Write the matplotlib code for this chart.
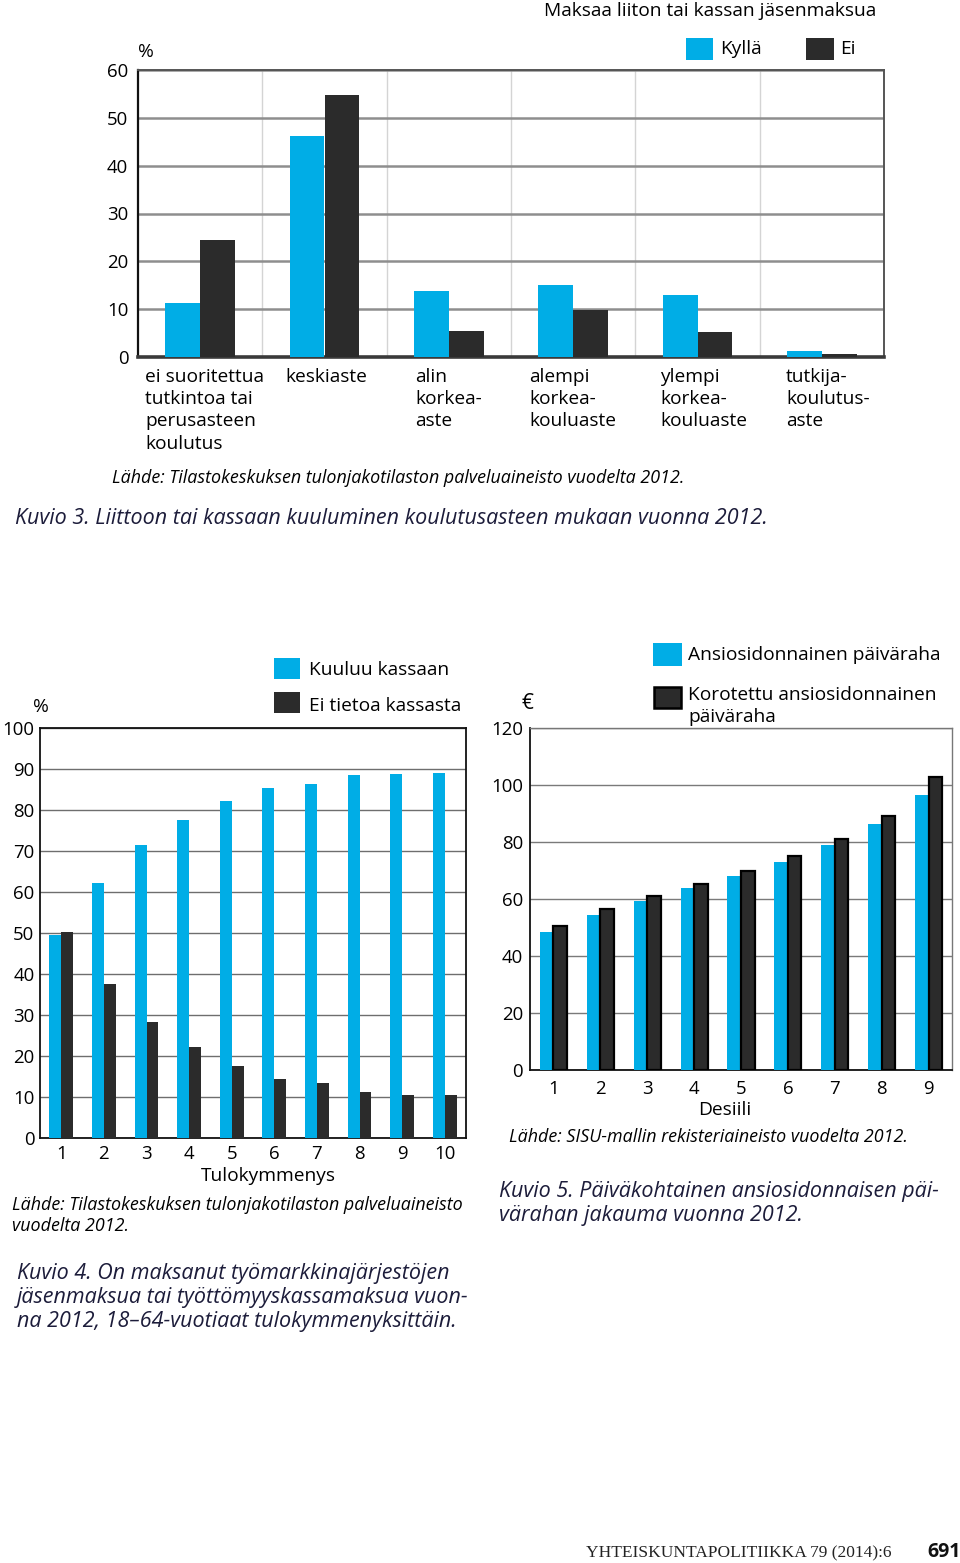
import matplotlib
matplotlib.use("Agg")
import matplotlib.pyplot as plt
from matplotlib.patches import Rectangle
import numpy as np

# ---------------- data ----------------
edu_labels = ["ei suoritettua\ntutkintoa tai\nperusasteen\nkoulutus", "keskiaste",
              "alin\nkorkea-\naste", "alempi\nkorkea-\nkouluaste",
              "ylempi\nkorkea-\nkouluaste", "tutkija-\nkoulutus-\naste"]
edu_kylla = [11.2, 46.2, 13.9, 15.0, 12.9, 1.2]
edu_ei = [24.5, 54.8, 5.5, 9.8, 5.2, 0.6]
top_yticks = [0, 10, 20, 30, 40, 50, 60]

tulo_labels = ["1", "2", "3", "4", "5", "6", "7", "8", "9", "10"]
kuuluu = [49.4, 62.2, 71.5, 77.5, 82.1, 85.3, 86.4, 88.6, 88.9, 89.0]
ei_tietoa = [50.3, 37.5, 28.4, 22.3, 17.6, 14.4, 13.3, 11.2, 10.6, 10.6]
tulo_yticks = [0, 10, 20, 30, 40, 50, 60, 70, 80, 90, 100]

desiili_labels = ["1", "2", "3", "4", "5", "6", "7", "8", "9"]
ansio = [48.4, 54.4, 59.4, 63.7, 68.0, 72.9, 78.8, 86.3, 96.4]
korotettu = [50.7, 56.4, 61.1, 65.2, 70.0, 75.0, 81.1, 89.1, 102.8]
des_yticks = [0, 20, 40, 60, 80, 100, 120]

# ---------------- style ----------------
FONT = "Open Sans"
plt.rcParams["font.family"] = [FONT, "DejaVu Sans"]
BLUE = "#00ade6"
DARK = "#2b2b2b"
NAVY = "#1c1c3a"
TS = 13.8      # general text
TK = 13.4      # tick labels
SRC = 12.9     # source lines
CAP = 15.5     # captions

W, H = 960, 1563
fig = plt.figure(figsize=(W / 100, H / 100), dpi=100)


def axes_px(l, t, r, b):
    return fig.add_axes([l / W, 1 - b / H, (r - l) / W, (b - t) / H])


def txt(x, y, s, **kw):
    kw.setdefault("fontsize", TS)
    kw.setdefault("va", "center")
    return fig.text(x / W, 1 - y / H, s, **kw)


def key(l, t, r, b, color, edge="none", lw=0):
    fig.add_artist(Rectangle((l / W, 1 - b / H), (r - l) / W, (b - t) / H,
                             transform=fig.transFigure, facecolor=color,
                             edgecolor=edge, linewidth=lw))


# ================= Chart 1 (Kuvio 3) =================
ax1 = axes_px(138, 70, 884, 357)
x1 = np.arange(len(edu_kylla)) + 0.5
bw1 = 0.28
ax1.bar(x1 - bw1 / 2, edu_kylla, bw1, color=BLUE, zorder=3)
ax1.bar(x1 + bw1 / 2, edu_ei, bw1, color=DARK, zorder=3)
ax1.set_xlim(0, len(edu_kylla))
ax1.set_ylim(0, 60)
ax1.set_yticks(top_yticks)
ax1.set_xticks(np.arange(1, len(edu_kylla)))
ax1.set_xticklabels([])
ax1.tick_params(length=0, labelsize=TK, pad=7)
ax1.grid(axis="y", color="#8e8e8e", lw=1.8, zorder=0)
ax1.grid(axis="x", color="#d4d4d4", lw=1.0, zorder=0)
ax1.set_axisbelow(True)
ax1.spines["left"].set_color("#111111")
ax1.spines["left"].set_linewidth(1.6)
ax1.spines["bottom"].set_color("#3a3a3a")
ax1.spines["bottom"].set_linewidth(2.6)
ax1.spines["top"].set_color("#555555")
ax1.spines["top"].set_linewidth(1.4)
ax1.spines["right"].set_color("#555555")
ax1.spines["right"].set_linewidth(1.4)

txt(544, 11, "Maksaa liiton tai kassan jäsenmaksua")
txt(138, 52, "%")
key(686, 38, 713, 60, BLUE)
txt(720, 49, "Kyllä")
key(806, 38, 834, 60, DARK)
txt(840, 49, "Ei")
cat_x = [145, 285, 415, 529, 660, 786]
for cx, lab in zip(cat_x, edu_labels):
    txt(cx, 368, lab, va="top", linespacing=1.3)
txt(112, 478, "Lähde: Tilastokeskuksen tulonjakotilaston palveluaineisto vuodelta 2012.",
    fontsize=SRC, style="italic")
txt(15, 519, "Kuvio 3. Liittoon tai kassaan kuuluminen koulutusasteen mukaan vuonna 2012.",
    fontsize=CAP, style="italic", color=NAVY)

# ================= Chart 2 (Kuvio 4) =================
ax2 = axes_px(40, 728, 466, 1138)
x2 = np.arange(1, len(kuuluu) + 1)
bw2 = 0.28
ax2.bar(x2 - bw2 / 2, kuuluu, bw2, color=BLUE, zorder=3)
ax2.bar(x2 + bw2 / 2, ei_tietoa, bw2, color=DARK, zorder=3)
ax2.set_xlim(0.5, len(kuuluu) + 0.5)
ax2.set_ylim(0, 100)
ax2.set_yticks(tulo_yticks)
ax2.set_xticks(x2)
ax2.set_xticklabels(tulo_labels)
ax2.tick_params(length=0, labelsize=TK)
ax2.tick_params(axis="y", pad=4)
ax2.tick_params(axis="x", pad=5)
ax2.set_xlabel("Tulokymmenys", fontsize=TS, labelpad=0)
ax2.xaxis.set_label_coords((268 - 40) / 426, -0.07)
ax2.grid(axis="y", color="#6e6e6e", lw=1.0, zorder=0)
ax2.set_axisbelow(True)
for s in ax2.spines.values():
    s.set_color("#111111")
    s.set_linewidth(1.3)

key(274, 658, 300, 679, BLUE)
txt(309, 670, "Kuuluu kassaan")
key(274, 692, 300, 713, DARK)
txt(309, 706, "Ei tietoa kassasta")
txt(33, 707, "%")
txt(12, 1205, "Lähde: Tilastokeskuksen tulonjakotilaston palveluaineisto",
    fontsize=SRC, style="italic")
txt(12, 1226, "vuodelta 2012.", fontsize=SRC, style="italic")
txt(17, 1273, "Kuvio 4. On maksanut työmarkkinajärjestöjen", fontsize=CAP,
    style="italic", color=NAVY)
txt(17, 1297, "jäsenmaksua tai työttömyyskassamaksua vuon-", fontsize=CAP,
    style="italic", color=NAVY)
txt(17, 1321, "na 2012, 18–64-vuotiaat tulokymmenyksittäin.", fontsize=CAP,
    style="italic", color=NAVY)

# ================= Chart 3 (Kuvio 5) =================
ax3 = axes_px(530, 728, 952, 1070)
x3 = np.arange(1, len(ansio) + 1)
bw3 = 0.29
ax3.bar(x3 - bw3, ansio, bw3, align="edge", color=BLUE, zorder=3)
ax3.bar(x3, korotettu, bw3, align="edge", color=DARK, edgecolor="#000000",
        linewidth=1.6, zorder=3)
ax3.set_xlim(0.5, len(ansio) + 0.5)
ax3.set_ylim(0, 120)
ax3.set_yticks(des_yticks)
ax3.set_xticks(x3)
ax3.set_xticklabels(desiili_labels)
ax3.tick_params(length=0, labelsize=TK)
ax3.tick_params(axis="y", pad=5)
ax3.tick_params(axis="x", pad=7)
ax3.set_xlabel("Desiili", fontsize=TS, labelpad=0)
ax3.xaxis.set_label_coords((725 - 530) / 422, -0.09)
ax3.grid(axis="y", color="#7a7a7a", lw=1.0, zorder=0)
ax3.set_axisbelow(True)
ax3.spines["left"].set_color("#111111")
ax3.spines["left"].set_linewidth(1.3)
ax3.spines["bottom"].set_color("#111111")
ax3.spines["bottom"].set_linewidth(1.3)
ax3.spines["top"].set_color("#777777")
ax3.spines["top"].set_linewidth(1.0)
ax3.spines["right"].set_color("#777777")
ax3.spines["right"].set_linewidth(1.0)

key(653, 643, 682, 666, BLUE)
txt(688, 655, "Ansiosidonnainen päiväraha")
key(654, 687, 681, 708, DARK, edge="#000000", lw=1.8)
txt(688, 695, "Korotettu ansiosidonnainen")
txt(688, 717, "päiväraha")
txt(521, 703, "€", fontsize=15)
txt(509, 1137, "Lähde: SISU-mallin rekisteriaineisto vuodelta 2012.", fontsize=SRC,
    style="italic")
txt(499, 1191, "Kuvio 5. Päiväkohtainen ansiosidonnaisen päi-", fontsize=CAP,
    style="italic", color=NAVY)
txt(499, 1215, "värahan jakauma vuonna 2012.", fontsize=CAP, style="italic", color=NAVY)

# ================= footer =================
txt(586, 1553, "YHTEISKUNTAPOLITIIKKA 79 (2014):6", fontsize=12.5,
    family=["Liberation Serif", "DejaVu Serif"], color="#222222")
txt(927, 1552, "691", fontsize=14, weight="bold", color="#111111")

fig.savefig("out.png", dpi=100)
